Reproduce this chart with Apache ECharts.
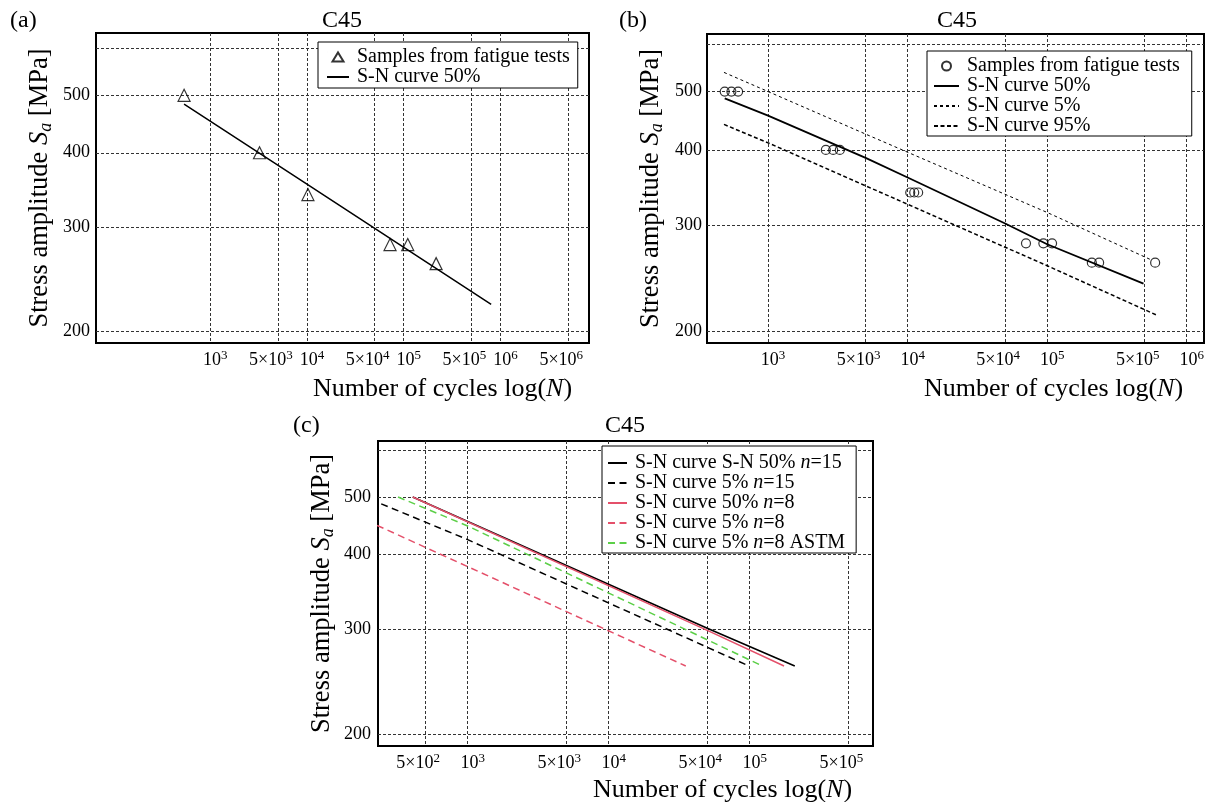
<!DOCTYPE html>
<html>
<head>
<meta charset="utf-8">
<script src="https://cdn.jsdelivr.net/npm/echarts@6/dist/echarts.min.js"></script>
<style>html,body{margin:0;padding:0;background:#fff}#chart{width:1208px;height:802px}</style>
</head>
<body>
<div id="chart"></div>
<script>
// ---------- tick values & labels ----------
const yGridTicks = [200, 300, 400, 500, 600];
const yLabelTicks = [200, 300, 400, 500];
const xTicksAB = [1e3, 5e3, 1e4, 5e4, 1e5, 5e5, 1e6, 5e6];
const xTicksC = [5e2, 1e3, 5e3, 1e4, 5e4, 1e5, 5e5];
const xTickValues = [5e2, 1e3, 5e3, 1e4, 5e4, 1e5, 5e5, 1e6, 5e6];
const xTickBase = ['5×10', '10', '5×10', '10', '5×10', '10', '5×10', '10', '5×10'];
const xTickExp = ['2', '3', '3', '4', '4', '5', '5', '6', '6'];

// ---------- panel (a) ----------
const aSampleN = [538, 3236, 10240, 72200, 110000, 216000];
const aSampleS = [500, 400, 340, 280, 280, 260];
const aCurve50N = [538, 10000, 800000];
const aCurve50S = [483, 354, 222];
const aLegendNames = ['a_samples', 'a_sn50'];
const aLegendLabels = ['Samples from fatigue tests', 'S-N curve 50%'];

// ---------- panel (b) ----------
const bSampleN = [489, 546, 610, 2594, 2927, 3267, 10440, 11150, 11900, 70500, 93900, 108400, 209000, 235700, 594000];
const bSampleS = [500, 500, 500, 400, 400, 400, 340, 340, 340, 280, 280, 280, 260, 260, 260];
const bCurve50N = [489, 1000, 5000, 10000, 50000, 100000, 490000];
const bCurve50S = [487, 456, 388, 360, 302, 279, 240];
const bCurve5N = [483, 1000, 5000, 100000, 553000];
const bCurve5S = [538, 500, 425, 315, 263];
const bCurve95N = [483, 1000, 100000, 604000];
const bCurve95S = [441, 411, 257, 213];
const bLegendNames = ['b_samples', 'b_sn50', 'b_sn5', 'b_sn95'];
const bLegendLabels = ['Samples from fatigue tests', 'S-N curve 50%', 'S-N curve 5%', 'S-N curve 95%'];

// ---------- panel (c) ----------
const c50n15N = [408, 50000, 208600];
const c50n15S = [500, 301, 260];
const c5n15N = [244, 1000, 98900];
const c5n15S = [487, 424, 260];
const c50n8N = [408, 50000, 175100];
const c50n8S = [500, 298.5, 260];
const c5n8N = [228, 1000, 35200];
const c5n8S = [448, 382, 260];
const c5n8AstmN = [321, 1000, 123000];
const c5n8AstmS = [500, 447, 260];
const cLegendNames = ['c_50_15', 'c_5_15', 'c_50_8', 'c_5_8', 'c_5_8_astm'];
const cLegendLabels = ['S-N curve S-N 50% {i|n}=15', 'S-N curve 5% {i|n}=15', 'S-N curve 50% {i|n}=8', 'S-N curve 5% {i|n}=8', 'S-N curve 5% {i|n}=8 ASTM'];

// ---------- helpers ----------
const FONT = 'Liberation Serif';
const RED = '#e4506a';
const GREEN = '#5ccf48';
const TRI_ICON = 'path://M0,0L0.01,0M22,10L21.99,10M5.5,9.5L11,0.5L16.5,9.5Z';
const CIRC_ICON = 'path://M0,0L0.01,0M25,10L24.99,10M17,5A4.5,4.5,0,1,1,8,5A4.5,4.5,0,1,1,17,5Z';
const legendMap = {};
[[aLegendNames, aLegendLabels], [bLegendNames, bLegendLabels], [cLegendNames, cLegendLabels]].forEach(([n, l]) => n.forEach((k, i) => legendMap[k] = l[i]));

function pairs(xs, ys) { return xs.map((x, i) => [x, ys[i]]); }
function xFmt(v) {
  const i = xTickValues.findIndex(t => Math.abs(t - v) / t < 1e-6);
  if (i < 0) return '';
  const base = xTickBase[i], exp = xTickExp[i];
  return base.charAt(0) === '5'
    ? '{b|' + base + '}{s|' + exp + '}{w|\u00a0}'
    : '{v|\u00a0}{b|' + base + '}{s|' + exp + '}';
}
const gridLine = { show: true, lineStyle: { color: '#333', width: 1, type: [3, 2] } };

function makeX(gi, min, max, ticks, shift, gap) {
  return {
    type: 'log', logBase: 10, gridIndex: gi, min: min, max: max,
    axisLine: { show: false }, axisTick: { show: false, customValues: ticks },
    minorTick: { show: false }, minorSplitLine: { show: false },
    axisLabel: {
      customValues: ticks, formatter: xFmt, color: '#000', fontFamily: FONT, fontSize: 18, margin: 6,
      rich: {
        b: { color: '#000', fontFamily: FONT, fontSize: 18, lineHeight: 22 },
        s: { color: '#000', fontFamily: FONT, fontSize: 13, lineHeight: 13, verticalAlign: 'top' },
        w: { fontSize: 10, width: 14 },
        v: { fontSize: 10, width: 10 }
      }
    },
    splitLine: gridLine,
    name: 'Number of cycles log({i|N})', nameLocation: 'middle', nameGap: gap,
    nameTextStyle: {
      color: '#000', fontFamily: FONT, fontSize: 26, padding: [0, 0, 0, shift * 2],
      rich: { i: { color: '#000', fontFamily: FONT, fontSize: 26, fontStyle: 'italic' } }
    }
  };
}
function makeY(gi, min, max, margin) {
  return {
    type: 'log', logBase: 10, gridIndex: gi, min: min, max: max,
    axisLine: { show: false }, axisTick: { show: false, customValues: yGridTicks },
    minorTick: { show: false }, minorSplitLine: { show: false },
    axisLabel: { customValues: yLabelTicks, color: '#000', fontFamily: FONT, fontSize: 18, margin: margin },
    splitLine: gridLine,
    name: 'Stress amplitude {i|S}{sub|a} [MPa]', nameLocation: 'middle', nameGap: 41,
    nameTextStyle: {
      color: '#000', fontFamily: FONT, fontSize: 26.5, lineHeight: 30,
      rich: {
        i: { color: '#000', fontFamily: FONT, fontSize: 26.5, fontStyle: 'italic', lineHeight: 30 },
        sub: { color: '#000', fontFamily: FONT, fontSize: 18, fontStyle: 'italic', lineHeight: 18, verticalAlign: 'bottom' }
      }
    }
  };
}
function lineSeries(name, gi, xs, ys, color, width, type) {
  return {
    type: 'line', name: name, xAxisIndex: gi, yAxisIndex: gi, data: pairs(xs, ys),
    symbol: 'none', silent: true,
    lineStyle: { color: color, width: width, type: type },
    itemStyle: { color: color }
  };
}
function legendItems(names, icon) {
  return names.map((n, i) => i === 0 && icon ? { name: n, icon: icon } : { name: n, itemStyle: { opacity: 0 } });
}
function legendCfg(names, icon, left, top, itemWidth, lineH, pad) {
  return {
    data: legendItems(names, icon), orient: 'vertical', left: left, top: top,
    itemWidth: itemWidth, itemHeight: 10, itemGap: 0, selectedMode: false,
    padding: pad, backgroundColor: '#fff', borderColor: '#000', borderWidth: 1, borderRadius: 0,
    formatter: n => legendMap[n],
    textStyle: {
      color: '#000', fontFamily: FONT, fontSize: 20, lineHeight: lineH, padding: [0, 0, 0, 3],
      rich: { i: { color: '#000', fontFamily: FONT, fontSize: 20, fontStyle: 'italic', lineHeight: lineH } }
    }
  };
}
const hollow = { color: 'rgba(255,255,255,0)', borderColor: '#000', borderWidth: 1.2 };
const gridBase = { show: true, borderColor: '#000', borderWidth: 2, backgroundColor: 'transparent', containLabel: false, outerBoundsMode: 'none' };
function txt(text, x, y, align) {
  return { type: 'text', x: x, y: y, style: { text: text, fill: '#000', font: '24px "Liberation Serif"', align: align, verticalAlign: 'middle' } };
}

const option = {
  animation: false,
  backgroundColor: '#fff',
  grid: [
    Object.assign({ left: 96, top: 33, width: 493, height: 310 }, gridBase),
    Object.assign({ left: 707, top: 34, width: 497, height: 309 }, gridBase),
    Object.assign({ left: 378, top: 441, width: 495, height: 305 }, gridBase)
  ],
  xAxis: [
    makeX(0, 66.2, 8.2e6, xTicksAB, 100, 33),
    makeX(1, 365, 1.33e6, xTicksAB, 98, 33),
    makeX(2, 231.5, 7.48e5, xTicksC, 97, 31)
  ],
  yAxis: [
    makeY(0, 191, 637, 6),
    makeY(1, 191.3, 623, 5),
    makeY(2, 190.8, 621, 7)
  ],
  legend: [
    legendCfg(aLegendNames, TRI_ICON, 318, 42, 22, 20, [5, 8, 1, 8]),
    legendCfg(bLegendNames, CIRC_ICON, 927, 51, 25, 19, [5, 12, 0, 6]),
    legendCfg(cLegendNames, null, 602, 446, 19, 18, [7, 11, 0, 5])
  ],
  graphic: [
    txt('(a)', 10, 21, 'left'), txt('C45', 342, 21, 'center'),
    txt('(b)', 619, 21, 'left'), txt('C45', 957, 21, 'center'),
    txt('(c)', 293, 426, 'left'), txt('C45', 625, 426, 'center')
  ],
  series: [
    { type: 'scatter', name: 'a_samples', xAxisIndex: 0, yAxisIndex: 0, data: pairs(aSampleN, aSampleS), symbol: 'triangle', symbolSize: 12, itemStyle: hollow, z: 3, silent: true },
    lineSeries('a_sn50', 0, aCurve50N, aCurve50S, '#000', 1.5, 'solid'),

    { type: 'scatter', name: 'b_samples', xAxisIndex: 1, yAxisIndex: 1, data: pairs(bSampleN, bSampleS), symbol: 'circle', symbolSize: 9, itemStyle: hollow, z: 3, silent: true },
    lineSeries('b_sn50', 1, bCurve50N, bCurve50S, '#000', 1.8, 'solid'),
    lineSeries('b_sn5', 1, bCurve5N, bCurve5S, '#000', 1, [3, 3]),
    lineSeries('b_sn95', 1, bCurve95N, bCurve95S, '#000', 1.5, [4, 2.5]),

    lineSeries('c_50_15', 2, c50n15N, c50n15S, '#000', 1.6, 'solid'),
    lineSeries('c_5_15', 2, c5n15N, c5n15S, '#000', 1.5, [7, 4.5]),
    lineSeries('c_50_8', 2, c50n8N, c50n8S, RED, 1.5, 'solid'),
    lineSeries('c_5_8', 2, c5n8N, c5n8S, RED, 1.5, [7, 4.5]),
    lineSeries('c_5_8_astm', 2, c5n8AstmN, c5n8AstmS, GREEN, 1.5, [7, 4.5])
  ]
};
const chart = echarts.init(document.getElementById('chart'), null, { renderer: 'canvas' });
chart.setOption(option);
</script>
</body>
</html>
